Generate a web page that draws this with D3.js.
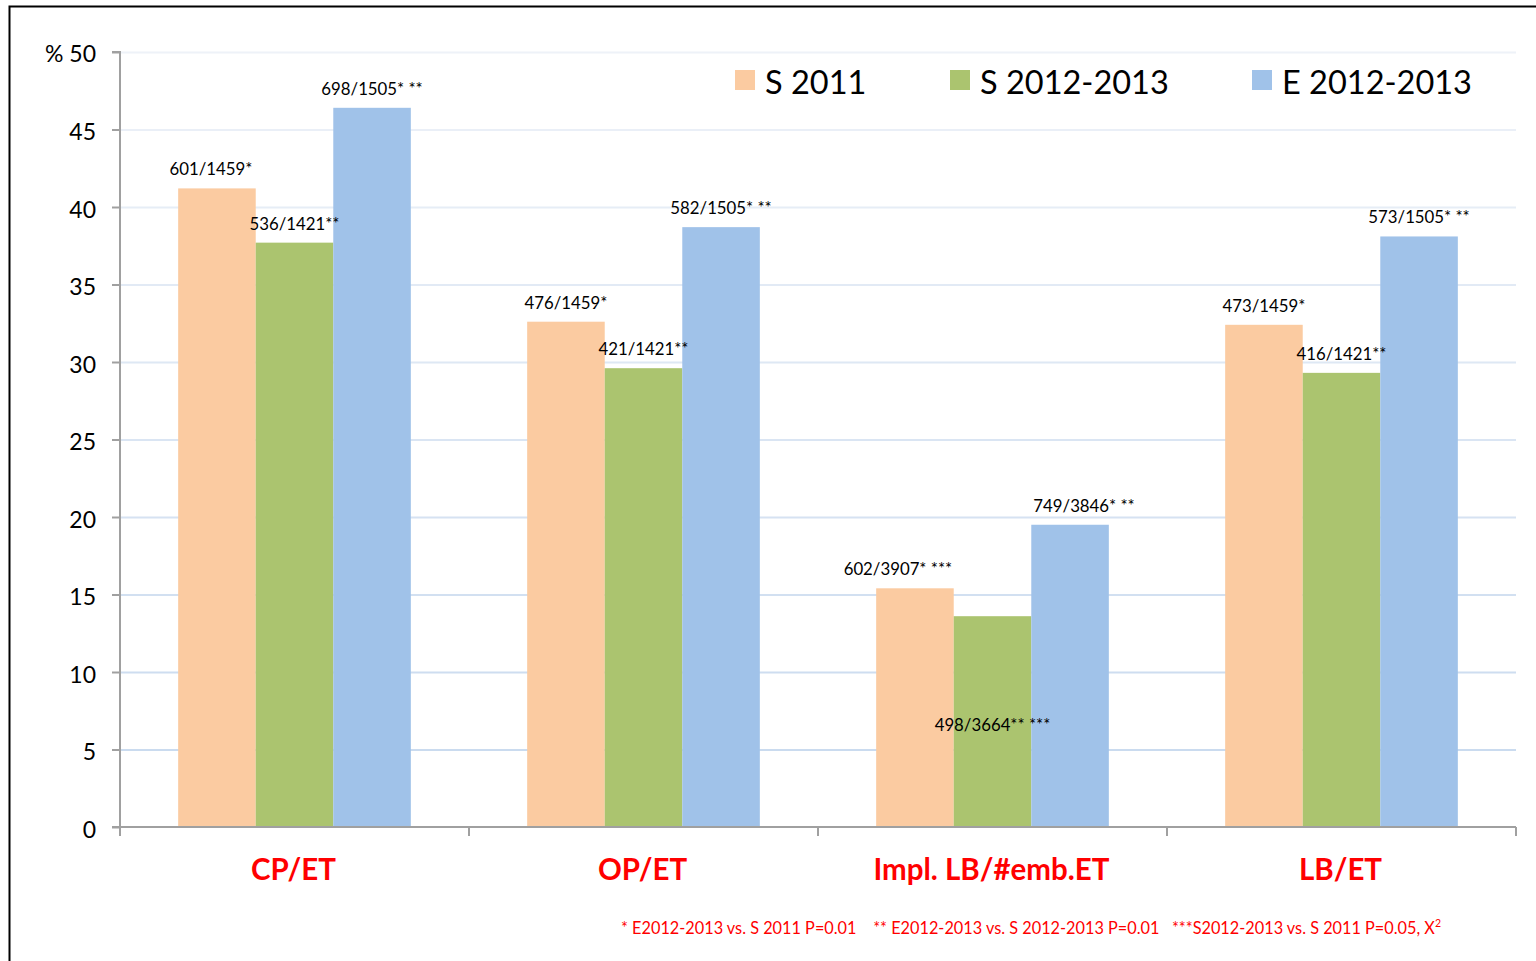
<!DOCTYPE html>
<html>
<head>
<meta charset="utf-8">
<script src="https://cdn.jsdelivr.net/npm/d3@7"></script>
<style>
  body { margin: 0; background: #fff; }
  svg text { font-family: Lato, "Open Sans", sans-serif; }
</style>
</head>
<body>
<svg id="chart" width="1536" height="961"></svg>
<script>
// --- data ---
const categories = ["CP/ET", "OP/ET", "Impl. LB/#emb.ET", "LB/ET"];
const seriesNames = ["S 2011", "S 2012-2013", "E 2012-2013"];
const seriesColors = ["#fbcba1", "#abc46f", "#a0c2e9"];
const s2011 = [41.2, 32.6, 15.4, 32.4];
const s2012 = [37.7, 29.6, 13.6, 29.3];
const e2012 = [46.4, 38.7, 19.5, 38.1];
const labels2011 = ["601/1459*", "476/1459*", "602/3907* ***", "473/1459*"];
const labels2012s = ["536/1421**", "421/1421**", "498/3664** ***", "416/1421**"];
const labels2012e = ["698/1505* **", "582/1505* **", "749/3846* **", "573/1505* **"];
const yTicks = [0, 5, 10, 15, 20, 25, 30, 35, 40, 45, 50];

const seriesValues = [s2011, s2012, e2012];
const seriesLabels = [labels2011, labels2012s, labels2012e];

// --- layout ---
const svg = d3.select("#chart");
const plotLeft = 120, plotRight = 1516, plotTop = 52, plotBottom = 827;

// frame
svg.append("path")
    .attr("d", "M9.5,970 L9.5,6.5 L1540,6.5")
    .attr("fill", "none").attr("stroke", "#000").attr("stroke-width", 2);

const x = d3.scaleBand().domain(categories).range([plotLeft, plotRight]);
const xs = d3.scaleBand().domain(d3.range(3)).range([0, x.bandwidth()]).paddingOuter(0.75).paddingInner(0);
const y = d3.scaleLinear().domain([0, 50]).range([plotBottom, plotTop]);

// gridlines (lighter toward the top)
const gridColor = d3.interpolateRgb("#c6d8ee", "#eef2f8");
svg.append("g").selectAll("line").data(yTicks.filter(d => d > 0)).join("line")
    .attr("x1", plotLeft).attr("x2", plotRight)
    .attr("y1", d => y(d) + 0.5).attr("y2", d => y(d) + 0.5)
    .attr("stroke", d => gridColor(d / 50)).attr("stroke-width", 2);

// bars
const groups = svg.append("g").selectAll("g").data(seriesValues).join("g")
    .attr("fill", (d, i) => seriesColors[i]);
groups.each(function(vals, si) {
    d3.select(this).selectAll("rect").data(vals).join("rect")
        .attr("x", (d, ci) => x(categories[ci]) + xs(si))
        .attr("width", xs.bandwidth())
        .attr("y", d => y(d))
        .attr("height", d => plotBottom - y(d));
});

// axes
const yAxis = d3.axisLeft(y).tickValues(yTicks).tickSize(8).tickFormat(d => d === 50 ? "" : d);
const gy = svg.append("g").attr("transform", `translate(${plotLeft},0)`).call(yAxis);
gy.select(".domain").attr("stroke", "#a0a0a0").attr("stroke-width", 2).attr("d", `M-8,${plotTop}H0V${plotBottom}`);
gy.selectAll(".tick line").attr("stroke", "#a0a0a0").attr("stroke-width", 2);
gy.selectAll(".tick text").attr("x", -24).attr("dy", "0.45em").attr("font-size", 23).attr("fill", "#000")
    .style("font-family", "Lato, sans-serif");
svg.append("text").attr("x", 96).attr("y", y(50)).attr("dy", "0.45em")
    .attr("text-anchor", "end").attr("font-size", 23).text("% 50");

const gx = svg.append("g").attr("transform", `translate(0,${plotBottom})`);
gx.append("line").attr("x1", plotLeft - 8).attr("x2", plotRight).attr("y1", 0).attr("y2", 0)
    .attr("stroke", "#a0a0a0").attr("stroke-width", 2);
gx.selectAll(".xt").data(categories.concat([null])).join("line")
    .attr("class", "xt")
    .attr("x1", (d, i) => plotLeft + i * x.bandwidth()).attr("x2", (d, i) => plotLeft + i * x.bandwidth())
    .attr("y1", 0).attr("y2", 9).attr("stroke", "#a0a0a0").attr("stroke-width", 2);
gx.selectAll(".xl").data(categories).join("text")
    .attr("class", "xl")
    .attr("x", d => x(d) + x.bandwidth() / 2 - 1)
    .attr("y", 53)
    .attr("text-anchor", "middle")
    .attr("font-size", 29.5).attr("font-weight", "bold").attr("fill", "#ff0000")
    .text(d => d);

// data labels
const labelShift = { "0-0": -6, "2-0": -17, "2-2": 14 };
seriesLabels.forEach((labs, si) => {
    labs.forEach((t, ci) => {
        const cx = x(categories[ci]) + xs(si) + xs.bandwidth() / 2 + (labelShift[ci + "-" + si] || 0);
        // the green Impl. label sits inside the bar in the original
        const ly = (ci === 2 && si === 1) ? y(6.6) : y(seriesValues[si][ci]) - 19;
        svg.append("text").attr("x", cx).attr("y", ly).attr("dy", "0.35em")
            .attr("text-anchor", "middle").attr("font-size", 16.8).attr("fill", "#000")
            .style("white-space", "pre").text(t);
    });
});

// legend
const legendX = [735, 950, 1252];
const lg = svg.append("g").selectAll("g").data(seriesNames).join("g")
    .attr("transform", (d, i) => `translate(${legendX[i]},70)`);
lg.append("rect").attr("width", 20).attr("height", 20).attr("fill", (d, i) => seriesColors[i]);
lg.append("text").attr("x", 30).attr("y", 12).attr("dy", "0.36em")
    .attr("font-size", 32.5).attr("fill", "#000").text(d => d);

// footnote
const foot = svg.append("text").attr("x", 621).attr("y", 928).attr("dy", "0.35em")
    .attr("font-size", 16.3).attr("fill", "#ff0000").style("white-space", "pre");
foot.append("tspan").text("* E2012-2013 vs. S 2011 P=0.01    ** E2012-2013 vs. S 2012-2013 P=0.01   ***S2012-2013 vs. S 2011 P=0.05, X");
foot.append("tspan").attr("font-size", 10.5).attr("dy", "-0.6em").text("2");
</script>
</body>
</html>
